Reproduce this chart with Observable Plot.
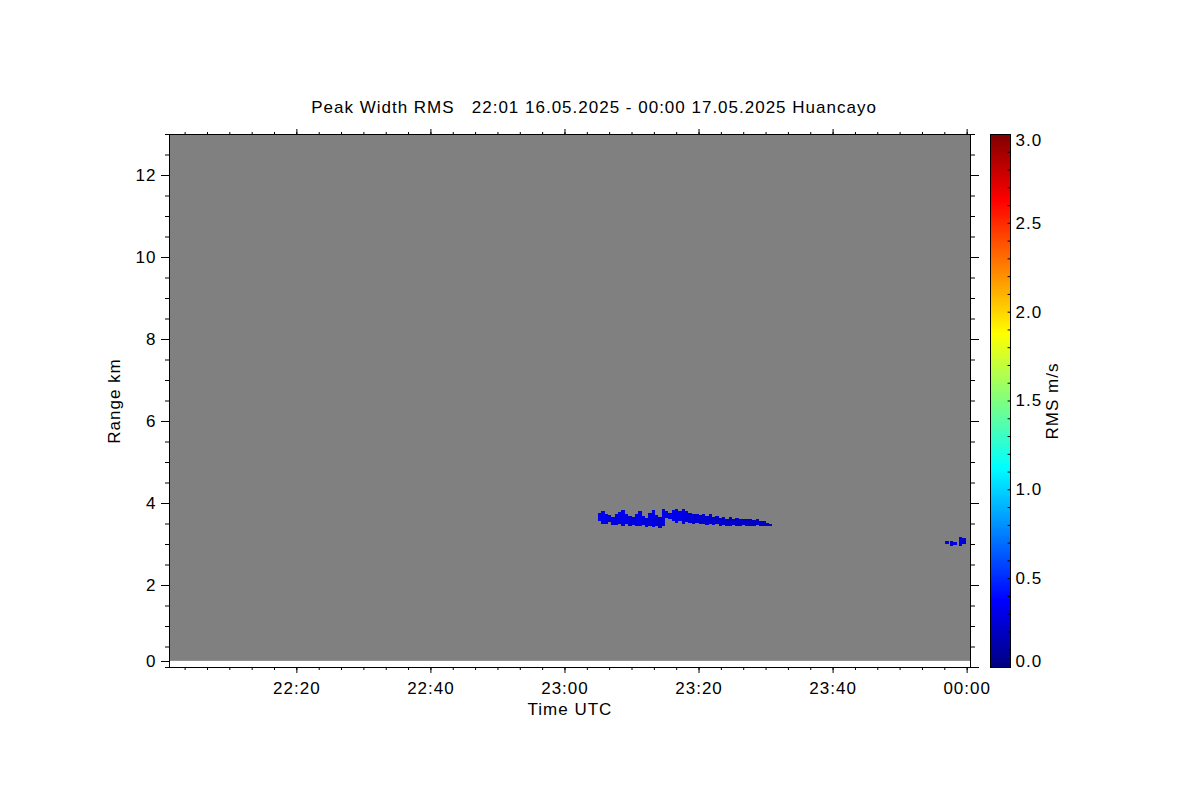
<!DOCTYPE html>
<html>
<head>
<meta charset="utf-8">
<script src="https://cdn.jsdelivr.net/npm/d3@7"></script>
<script src="https://cdn.jsdelivr.net/npm/@observablehq/plot@0.6"></script>
<style>
  html, body { margin: 0; padding: 0; background: white; }
  #wrap { position: relative; width: 1200px; height: 800px; background: white; }
  #wrap svg { position: absolute; top: 0; background: transparent; }
</style>
</head>
<body>
<div id="wrap"></div>
<script>
// ---------- data ----------
const titleText = "Peak Width RMS   22:01 16.05.2025 - 00:00 17.05.2025 Huancayo";
const xLabel = "Time UTC";
const yLabel = "Range km";
const colorLabel = "RMS m/s";

// observation window (gray = measured, no echo)
const windowStart = ["2025-05-16T22:01:00Z"];
const windowEnd = ["2025-05-17T00:00:30Z"];
const windowRangeMin = [0.15];
const windowRangeMax = [13];

// main echo layer, 30 s columns
const layerTime = ["23:05:00","23:05:30","23:06:00","23:06:30","23:07:00","23:07:30","23:08:00","23:08:30","23:09:00","23:09:30",
  "23:10:00","23:10:30","23:11:00","23:11:30","23:12:00","23:12:30","23:13:00","23:13:30","23:14:00","23:14:30",
  "23:15:00","23:15:30","23:16:00","23:16:30","23:17:00","23:17:30","23:18:00","23:18:30","23:19:00","23:19:30",
  "23:20:00","23:20:30","23:21:00","23:21:30","23:22:00","23:22:30","23:23:00","23:23:30","23:24:00","23:24:30",
  "23:25:00","23:25:30","23:26:00","23:26:30","23:27:00","23:27:30","23:28:00","23:28:30","23:29:00","23:29:30",
  "23:30:00","23:30:30"];
const layerBottom = [3.55,3.48,3.50,3.53,3.46,3.47,3.50,3.45,3.48,3.44,
  3.47,3.45,3.44,3.47,3.41,3.43,3.42,3.45,3.40,3.44,
  3.64,3.60,3.57,3.52,3.56,3.50,3.53,3.52,3.48,3.51,
  3.48,3.50,3.47,3.49,3.46,3.48,3.45,3.47,3.45,3.44,
  3.47,3.45,3.44,3.46,3.44,3.45,3.44,3.46,3.44,3.45,
  3.44,3.45];
const layerTop = [3.76,3.80,3.72,3.70,3.66,3.74,3.78,3.84,3.74,3.68,
  3.66,3.72,3.80,3.68,3.64,3.76,3.84,3.70,3.66,3.86,
  3.80,3.76,3.82,3.86,3.80,3.86,3.80,3.76,3.72,3.74,
  3.70,3.72,3.68,3.72,3.66,3.68,3.64,3.66,3.62,3.66,
  3.62,3.64,3.60,3.62,3.60,3.62,3.58,3.60,3.56,3.56,
  3.52,3.49];
const layerRms = [0.31,0.33,0.30,0.29,0.31,0.28,0.30,0.32,0.29,0.27,
  0.28,0.30,0.31,0.27,0.25,0.28,0.30,0.26,0.25,0.29,
  0.31,0.30,0.32,0.33,0.31,0.29,0.28,0.27,0.26,0.25,
  0.25,0.24,0.25,0.23,0.24,0.23,0.22,0.23,0.22,0.21,
  0.22,0.21,0.22,0.21,0.20,0.21,0.20,0.21,0.20,0.20,
  0.19,0.19];

// small echo near 00:00
const spotTime = ["23:56:50","23:57:30","23:58:00","23:58:50","23:59:20"];
const spotBottom = [3.00,2.95,2.97,2.95,3.00];
const spotTop = [3.08,3.08,3.05,3.18,3.15];
const spotRms = [0.30,0.27,0.29,0.28,0.27];

// axis ticks
const xMajorTicks = ["2025-05-16T22:20:00Z","2025-05-16T22:40:00Z","2025-05-16T23:00:00Z","2025-05-16T23:20:00Z","2025-05-16T23:40:00Z","2025-05-17T00:00:00Z"];
const yMajorTicks = [2, 4, 6, 8, 10, 12];
const colorTicks = [0.5, 1.0, 1.5, 2.0, 2.5];

// ---------- build ----------
const day = s => new Date(`2025-05-16T${s}Z`);
const step = 30 * 1000;
const cells = layerTime.map((t, i) => ({t0: day(t), t1: new Date(+day(t) + step), y0: layerBottom[i], y1: layerTop[i], v: layerRms[i]}))
  .concat(spotTime.map((t, i) => ({t0: day(t), t1: new Date(+day(t) + step), y0: spotBottom[i], y1: spotTop[i], v: spotRms[i]})));
const windowRows = windowStart.map((s, i) => ({t0: new Date(s), t1: new Date(windowEnd[i]), y0: windowRangeMin[i], y1: windowRangeMax[i]}));

const xDomain = [new Date("2025-05-16T22:01:00Z"), new Date("2025-05-17T00:00:30Z")];
const xMajor = xMajorTicks.map(s => new Date(s));
const xMinor = d3.range(+new Date("2025-05-16T22:03:20Z"), +xDomain[1], 200000).map(v => new Date(v));
const yMinor = d3.range(0, 13.01, 0.5);

const jetColor = {
  type: "linear",
  domain: [0, 0.375, 1.125, 1.875, 2.625, 3],
  range: ["#000080", "#0000ff", "#00ffff", "#ffff00", "#ff0000", "#800000"],
  clamp: true
};

const font = {fontFamily: "Liberation Sans, Arial, sans-serif", fontSize: "17px", letterSpacing: "1px"};
const fmt = d3.utcFormat("%H:%M");
const none = () => "";

const main = Plot.plot({
  width: 1200, height: 800,
  marginLeft: 169, marginRight: 230, marginTop: 134, marginBottom: 133,
  style: {...font, background: "transparent", color: "black"},
  x: {type: "utc", domain: xDomain, label: null},
  y: {domain: [0, 13], label: null},
  color: jetColor,
  marks: [
    Plot.rect(windowRows, {x1: "t0", x2: "t1", y1: "y0", y2: "y1", fill: "#808080"}),
    Plot.rect(cells, {x1: "t0", x2: "t1", y1: "y0", y2: "y1", fill: "v", shapeRendering: "crispEdges"}),
    Plot.frame({stroke: "black"}),
    Plot.axisX({anchor: "bottom", ticks: xMajor, tickSize: 6, tickPadding: 8, tickFormat: fmt, fontSize: 17, label: null}),
    Plot.axisX({anchor: "bottom", ticks: xMinor, tickSize: 3, tickFormat: none, label: null}),
    Plot.axisX({anchor: "top", ticks: xMajor, tickSize: 6, tickFormat: none, label: null}),
    Plot.axisX({anchor: "top", ticks: xMinor, tickSize: 3, tickFormat: none, label: null}),
    Plot.axisY({anchor: "left", ticks: yMajorTicks, tickSize: 8, tickPadding: 5, fontSize: 17, label: null}),
    Plot.axisY({anchor: "left", ticks: [0], tickSize: 8, tickPadding: 5, dy: -6, fontSize: 17, label: null}),
    Plot.axisY({anchor: "left", ticks: yMinor, tickSize: 4, tickFormat: none, label: null}),
    Plot.axisY({anchor: "right", ticks: [0, ...yMajorTicks], tickSize: 8, tickFormat: none, label: null}),
    Plot.axisY({anchor: "right", ticks: yMinor, tickSize: 4, tickFormat: none, label: null}),
    Plot.text([xLabel], {frameAnchor: "bottom", dy: 42, lineAnchor: "middle", fontSize: 17}),
    Plot.text([yLabel], {frameAnchor: "left", dx: -55, rotate: -90, textAnchor: "middle", lineAnchor: "middle", fontSize: 17}),
    Plot.text([titleText], {frameAnchor: "top", dx: 24, dy: -27, lineAnchor: "middle", fontSize: 17})
  ]
});
main.style.left = "0px";

const bar = Plot.plot({
  width: 120, height: 800,
  marginLeft: 15, marginRight: 85, marginTop: 134, marginBottom: 133,
  style: {...font, background: "transparent", color: "black", overflow: "visible"},
  x: {domain: [0, 1], axis: null},
  y: {domain: [0, 3], axis: null},
  color: jetColor,
  marks: [
    Plot.rect(d3.range(0, 3, 0.01), {x1: 0, x2: 1, y1: d => d, y2: d => d + 0.01, fill: d => d + 0.005, shapeRendering: "crispEdges"}),
    Plot.ruleY(d3.range(0.1, 3, 0.1), {x1: 0.88, x2: 1, stroke: "black"}),
    Plot.frame({stroke: "black"}),
    Plot.text(colorTicks, {x: 1, y: d => d, text: d => d.toFixed(1), textAnchor: "start", dx: 5, fontSize: 17}),
    Plot.text([3], {x: 1, y: d => d, text: d => d.toFixed(1), textAnchor: "start", dx: 5, dy: 6, fontSize: 17}),
    Plot.text([0], {x: 1, y: d => d, text: d => d.toFixed(1), textAnchor: "start", dx: 5, dy: -6, fontSize: 17}),
    Plot.text([colorLabel], {frameAnchor: "middle", dx: 52, rotate: -90, fontSize: 17})
  ]
});
bar.style.left = "975px";

const wrap = document.getElementById("wrap");
wrap.appendChild(main);
wrap.appendChild(bar);
</script>
</body>
</html>
